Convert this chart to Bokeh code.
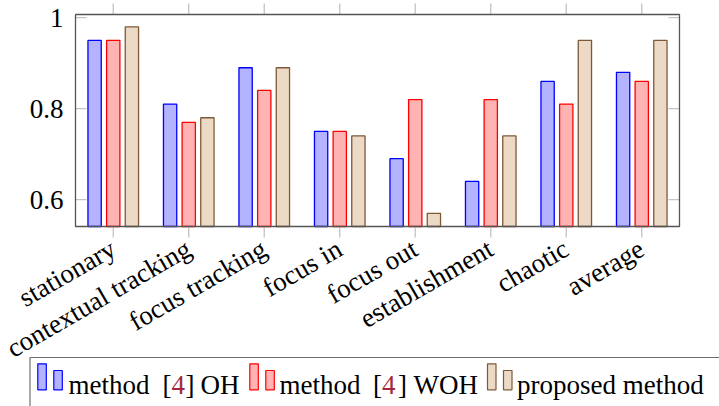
import math
from bokeh.plotting import figure
from bokeh.models import ColumnDataSource, Range1d
from bokeh.core.properties import value
from bokeh.embed import file_html
from bokeh.resources import INLINE

# ---------------- data ----------------
categories = ["stationary", "contextual tracking", "focus tracking", "focus in",
              "focus out", "establishment", "chaotic", "average"]
method4_oh = [0.95, 0.81, 0.89, 0.75, 0.69, 0.64, 0.86, 0.88]
method4_woh = [0.95, 0.77, 0.84, 0.75, 0.82, 0.82, 0.81, 0.86]
proposed = [0.98, 0.78, 0.89, 0.74, 0.57, 0.74, 0.95, 0.95]
y_ticks = [0.6, 0.8, 1.0]
y_tick_labels = ["0.6", "0.8", "1"]
# legend text pieces: (text, is_citation)
legend_oh = [("method", False), ("[", False), ("4", True), ("]", False), ("OH", False)]
legend_woh = [("method", False), ("[", False), ("4", True), ("]", False), ("WOH", False)]
legend_prop = [("proposed method", False)]

# ---------------- style / layout ----------------
FONT = "Liberation Serif"
FS = "27px"
AXIS_COL = "#555555"
TICK_COL = "#c4c4c4"
CITE_COL = "#a3283c"
W, H = 719, 406
FRAME_L, FRAME_R, FRAME_T, FRAME_B = 75, 679, 14, 226     # pixel box of the axis
X_LO, X_HI = 0.0, float(len(categories))
Y_LO, Y_HI = 0.541, 1.007
PXX = (FRAME_R - FRAME_L) / (X_HI - X_LO)
PXY = (FRAME_B - FRAME_T) / (Y_HI - Y_LO)
TICK = 11
LEGEND_BASE = 384

def cx(px):
    return X_LO + (px - FRAME_L) / PXX

def cy(py):
    return Y_HI - (py - FRAME_T) / PXY

series_styles = [
    ("oh", -0.247, "#b3b3ff", "#0000ff"),
    ("woh", 0.0, "#ffb3b3", "#ff0000"),
    ("prop", 0.247, "#ecd9c6", "#7d5a37"),
]

pos = [i + 0.5 for i in range(len(categories))]
src = ColumnDataSource(dict(pos=pos, cat=categories, oh=method4_oh, woh=method4_woh, prop=proposed))

p = figure(width=W, height=H, x_range=Range1d(cx(0), cx(W)), y_range=Range1d(cy(H), cy(0)),
           output_backend="svg", toolbar_location=None,
           min_border=0, background_fill_color="white", border_fill_color="white")
p.outline_line_color = None
p.axis.visible = False
p.grid.visible = False

# bars
for col, off, fc, lc in series_styles:
    p.vbar(x=[v + off for v in pos], top=src.data[col], bottom=Y_LO, width=0.176,
           fill_color=fc, line_color=lc, line_width=1.3)

# x ticks (outside, bottom and top)
n = len(pos)
p.segment(x0=pos, x1=pos, y0=[Y_LO] * n, y1=[Y_LO - TICK / PXY] * n,
          line_color=TICK_COL, line_width=1.3)
p.segment(x0=pos, x1=pos, y0=[Y_HI] * n, y1=[Y_HI + TICK / PXY] * n,
          line_color=TICK_COL, line_width=1.3)
# y ticks (inside, left and right)
m = len(y_ticks)
p.segment(x0=[X_LO] * m, x1=[X_LO + TICK / PXX] * m, y0=y_ticks, y1=y_ticks,
          line_color=TICK_COL, line_width=1.3)
p.segment(x0=[X_HI] * m, x1=[X_HI - TICK / PXX] * m, y0=y_ticks, y1=y_ticks,
          line_color=TICK_COL, line_width=1.3)

# axis box
p.quad(left=[X_LO], right=[X_HI], bottom=[Y_LO], top=[Y_HI], fill_color=None,
       line_color=AXIS_COL, line_width=1.3)

# y tick labels
p.text(x=[X_LO - 12 / PXX] * m, y=y_ticks, text=y_tick_labels, text_align="right",
       text_baseline="middle", text_font=value(FONT), text_font_size=value(FS),
       text_color="black")

# x tick labels (rotated)
p.text(x=pos, y=[Y_LO - (TICK + 9) / PXY] * n, text=categories, angle=math.pi / 6,
       text_align="right", text_baseline="middle", text_font=value(FONT),
       text_font_size=value(FS), text_color="black")

# ---------------- legend (pgfplots style) ----------------
p.quad(left=[cx(29.5)], right=[cx(W + 30)], top=[cy(357)], bottom=[cy(H + 30)],
       fill_color=None, line_color="#6e6e6e", line_width=1.2)

def legend_bars(anchor, fc, lc):
    lefts = [cx(anchor), cx(anchor + 16)]
    rights = [cx(anchor + 8.5), cx(anchor + 24.5)]
    tops = [cy(363.3), cy(370.0)]
    p.quad(left=lefts, right=rights, top=tops, bottom=[cy(389.3)] * 2,
           fill_color=fc, line_color=lc, line_width=1.2)

def legend_text(pieces, xs):
    p.text(x=[cx(x) for x in xs], y=[cy(LEGEND_BASE)] * len(xs), text=[t for t, _ in pieces],
           text_color=[CITE_COL if c else "black" for _, c in pieces],
           text_align="left", text_baseline="alphabetic",
           text_font=value(FONT), text_font_size=value(FS))

legend_bars(37.3, series_styles[0][2], series_styles[0][3])
legend_text(legend_oh, [68, 162, 171, 185, 200])
legend_bars(249.3, series_styles[1][2], series_styles[1][3])
legend_text(legend_woh, [279, 372.5, 381.5, 397.5, 413])
legend_bars(487.0, series_styles[2][2], series_styles[2][3])
legend_text(legend_prop, [516.5])

open("out.html", "w").write(file_html(p, INLINE))
